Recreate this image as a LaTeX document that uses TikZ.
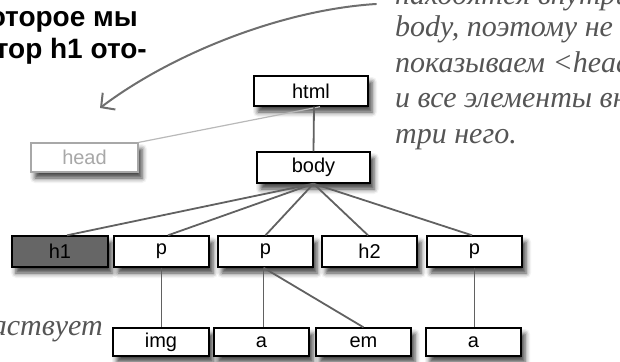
\documentclass[tikz,border=0pt]{standalone}
\usepackage{fontspec}
\setmainfont{Liberation Sans}
\newfontfamily\handfont{Liberation Serif}
\usetikzlibrary{shadows.blur, arrows.meta}
\definecolor{linegray}{HTML}{616161}
\definecolor{headgray}{HTML}{A8A8A8}
\definecolor{handgray}{HTML}{555555}
\definecolor{arrowgray}{HTML}{6E6E6E}
\definecolor{hfill}{HTML}{666666}
\tikzset{
  tag/.style={draw=black, line width=1.4pt, fill=white, minimum width=95pt, minimum height=31pt,
    inner sep=0pt, font=\fontsize{20}{20}\selectfont,
    blur shadow={shadow xshift=4pt, shadow yshift=-6pt, shadow blur radius=5pt, shadow opacity=75}},
  ghosttag/.style={tag, draw=headgray, line width=1.2pt, text=headgray},
  conn/.style={draw=linegray, line width=1.8pt},
  lightconn/.style={draw=headgray!80, line width=1.2pt},
  hand/.style={text=handgray, inner sep=0pt, font=\handfont\itshape\fontsize{30}{30}\selectfont},
  boldnote/.style={text=black, inner sep=0pt, font=\bfseries\fontsize{28}{28}\selectfont},
}
\begin{document}
\begin{tikzpicture}[x=1pt,y=-1pt]
\useasboundingbox (0,0) rectangle (620,361);
\begin{scope}
\clip (0,0) rectangle (620,361);
% annotations
\node[boldnote, anchor=base east] (n1) at (138,27) {которое мы};
\node[boldnote, anchor=base east] (n2) at (147,58) {селектор h1 ото-};
\node[hand, anchor=base west] (t1) at (395,5) {находятся внутри};
\node[hand, anchor=base west] (t2) at (395,37) {body, поэтому не};
\node[hand, anchor=base west] (t3) at (395,72) {показываем <head>};
\node[hand, anchor=base west] (t4) at (395,107.5) {и все элементы вну-};
\node[hand, anchor=base west] (t5) at (395,143) {три него.};
\node[hand, anchor=base east] (b1) at (103,335) {участвует};
% arrow
\coordinate (as) at (376,4);
\coordinate (ae) at (100,108);
\draw[arrowgray, line width=2pt, line cap=round, -{Straight Barb[length=10pt,width=21pt,line width=2pt]}]
  (as) .. controls (280,10) and (170,55) .. (ae);
% nodes
\node[tag, minimum width=114pt, minimum height=30pt] (html) at (311,91) {html};
\node[tag, minimum width=113pt] (body) at (313.5,167.5) {body};
\node[ghosttag, minimum width=107pt, minimum height=29pt] (head) at (84.5,157.5) {head};
\node[tag, fill=hfill, minimum width=96pt] (h1) at (60,251.5) {h1};
\node[tag] (p1) at (161.5,251.5) {p};
\node[tag] (p2) at (265.5,251.5) {p};
\node[tag] (h2) at (369.5,251.5) {h2};
\node[tag] (p3) at (474.5,251.5) {p};
\node[tag, minimum width=96pt, minimum height=28pt] (img) at (161,342) {img};
\node[tag, minimum height=28pt] (a1) at (261.5,342) {a};
\node[tag, minimum height=28pt] (em) at (363.5,342) {em};
\node[tag, minimum height=28pt] (a2) at (473.5,342) {a};
\end{scope}
\begin{scope}
\clip (0,0) rectangle (620,361);
\draw[lightconn] (head.north east) -- ([xshift=9pt]html.south);
\draw[conn] ([xshift=3pt]html.south) -- (body.north);
\draw[conn] (body.south) -- ([xshift=7pt]h1.north);
\draw[conn] (body.south) -- ([xshift=6.5pt]p1.north);
\draw[conn] (body.south) -- (p2.north);
\draw[conn] (body.south) -- ([xshift=-1.5pt]h2.north);
\draw[conn] (body.south) -- ([xshift=-2.5pt]p3.north);
\draw[conn] (p1.south) -- (p1.south |- img.north);
\draw[conn] ([xshift=-2pt]p2.south) -- ([xshift=-2pt]p2.south |- a1.north);
\draw[conn] ([xshift=-2pt]p2.south) -- (em.north);
\draw[conn] (p3.south) -- (p3.south |- a2.north);
\end{scope}
\end{tikzpicture}
\end{document}
